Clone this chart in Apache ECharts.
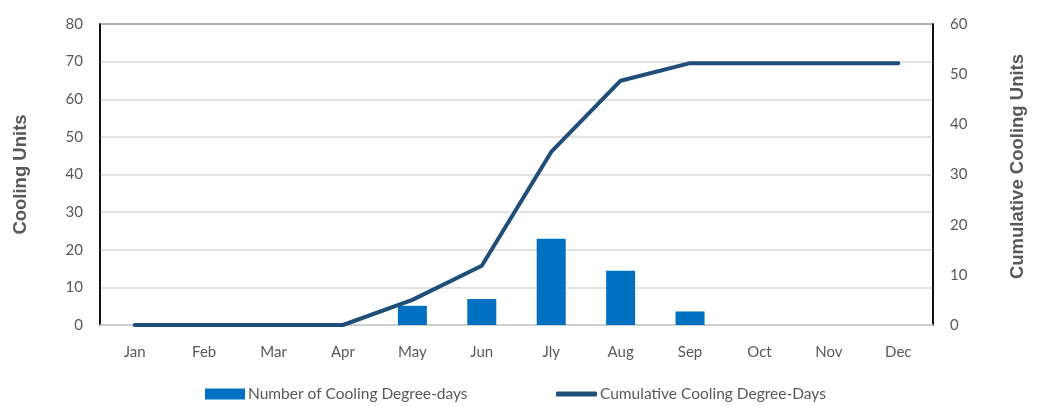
<!DOCTYPE html>
<html>
<head>
<meta charset="utf-8">
<script src="https://cdn.jsdelivr.net/npm/echarts@6/dist/echarts.min.js"></script>
<style>html,body{margin:0;padding:0;background:#fff}#c{width:1042px;height:406px}</style>
</head>
<body>
<div id="c"></div>
<script>
const months = ['Jan','Feb','Mar','Apr','May','Jun','Jly','Aug','Sep','Oct','Nov','Dec'];
const coolingDegreeDays = [null,null,null,null,5.1,6.9,22.9,14.4,3.6,null,null,null];
const cumulativeDegreeDays = [0,0,0,0,5.0,11.8,34.5,48.7,52.2,52.2,52.2,52.2];
const barName = 'Number of Cooling Degree-days';
const lineName = 'Cumulative Cooling Degree-Days';

const font = 'Lato, "Open Sans", sans-serif';
const gray = '#595959';
const chart = echarts.init(document.getElementById('c'), null, {renderer:'canvas'});
chart.setOption({
  animation:false,
  grid:{left:100,right:109,top:24,bottom:81,show:true,borderColor:'#000',borderWidth:1.5,backgroundColor:'transparent'},
  legend:[
    {data:[barName],left:200,top:381,itemWidth:40,itemHeight:11,icon:'rect',itemGap:2,
     textStyle:{fontFamily:font,fontSize:15.5,color:gray,padding:[0,0,0,-2]}},
    {data:[lineName],left:551,top:381,itemWidth:41,itemHeight:5,icon:'roundRect',
     textStyle:{fontFamily:font,fontSize:15.5,color:gray,padding:[0,0,0,-2]}}
  ],
  xAxis:{type:'category',data:months,
    axisLine:{lineStyle:{color:'#D9D9D9',width:1.5}},axisTick:{show:false},
    axisLabel:{fontFamily:font,fontSize:15,color:gray,margin:20}},
  yAxis:[
    {type:'value',min:0,max:80,interval:10,name:'Cooling Units',nameLocation:'middle',nameGap:70,
     nameTextStyle:{fontFamily:'"Liberation Sans", Arial, sans-serif',fontWeight:'bold',fontSize:18.5,color:gray},
     axisLine:{show:true,lineStyle:{color:'#000',width:1.5}},axisTick:{show:false},
     axisLabel:{fontFamily:font,fontSize:15,color:gray,margin:17},
     splitLine:{lineStyle:{color:'#D9D9D9',width:1.5}}},
    {type:'value',min:0,max:60,interval:10,name:'Cumulative Cooling Units',nameLocation:'middle',nameGap:75,
     nameTextStyle:{fontFamily:'"Liberation Sans", Arial, sans-serif',fontWeight:'bold',fontSize:18.5,color:gray,padding:[0,0,0,16]},
     axisLine:{show:true,lineStyle:{color:'#000',width:1.5}},axisTick:{show:false},
     axisLabel:{fontFamily:font,fontSize:15,color:gray,margin:17},
     splitLine:{show:false}}
  ],
  series:[
    {name:barName,type:'bar',data:coolingDegreeDays,barWidth:29,itemStyle:{color:'#0070C0'},yAxisIndex:0},
    {name:lineName,type:'line',data:cumulativeDegreeDays,yAxisIndex:1,showSymbol:false,symbol:'none',
     lineStyle:{color:'#1F4E79',width:4,cap:'round',join:'round'},itemStyle:{color:'#1F4E79'}}
  ]
});
</script>
</body>
</html>
